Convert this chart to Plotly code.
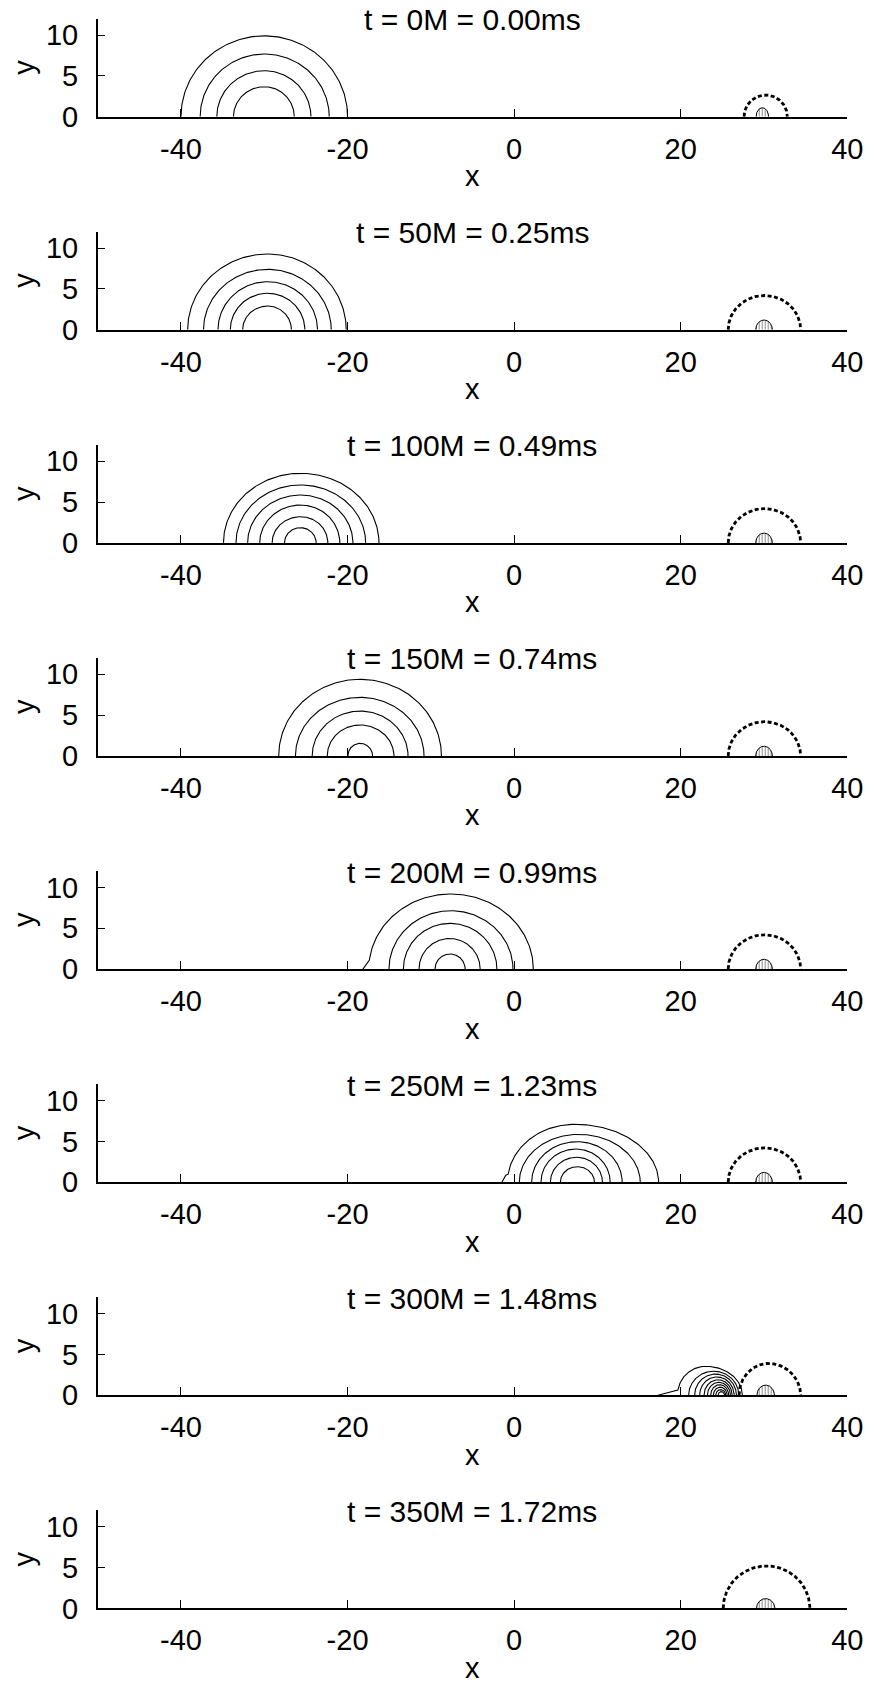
import numpy as np
import plotly.graph_objects as go

# ---------------- data ----------------
TITLES = ["t = 0M = 0.00ms", "t = 50M = 0.25ms", "t = 100M = 0.49ms", "t = 150M = 0.74ms",
          "t = 200M = 0.99ms", "t = 250M = 1.23ms", "t = 300M = 1.48ms", "t = 350M = 1.72ms"]
X_TICKS = [-40, -20, 0, 20, 40]
X_TICK_TEXT = ["-40", "-20", "0", "20", "40"]
Y_TICKS = [0, 5, 10]
Y_TICK_TEXT = ["0", "5", "10"]

# star density contours (one list per panel): left end, peak x, right end, height
STAR_LEFT = [
    [-40.0, -37.7, -35.7, -33.7],
    [-39.2, -37.3, -35.56, -34.08, -32.6],
    [-34.9, -33.4, -32.0, -30.55, -29.06, -27.58],
    [-28.27, -26.26, -24.25, -22.44, -19.96],
    [-17.45, -15.03, -13.3, -11.42, -9.5],
    [-0.8, 0.62, 2.1, 3.22, 4.35, 5.55],
    [19.6, 20.95, 21.67, 22.27, 22.8, 23.2, 23.6, 23.92, 24.2, 24.49],
    [],
]
STAR_PEAK = [
    [-30.0, -30.0, -30.0, -30.0],
    [-29.6, -29.6, -29.6, -29.6, -29.6],
    [-25.65, -25.65, -25.65, -25.65, -25.65, -25.65],
    [-18.5, -18.5, -18.5, -18.5, -18.5],
    [-7.6, -7.6, -7.7, -7.75, -7.7],
    [7.25, 7.7, 7.55, 7.4, 7.5, 7.6],
    [23.0, 23.96, 24.18, 24.34, 24.48, 24.58, 24.68, 24.74, 24.8, 24.87],
    [],
]
STAR_RIGHT = [
    [-20.0, -22.2, -24.4, -26.4],
    [-20.16, -21.96, -23.61, -25.13, -26.74],
    [-16.23, -17.83, -19.36, -20.93, -22.37, -23.77],
    [-8.73, -10.82, -12.74, -14.43, -17.0],
    [2.3, -0.14, -2.07, -4.08, -5.88],
    [17.34, 15.14, 12.97, 11.53, 10.6, 9.64],
    [27.4, 26.97, 26.69, 26.41, 26.17, 25.97, 25.76, 25.57, 25.4, 25.25],
    [],
]
STAR_HEIGHT = [
    [9.9, 7.67, 5.63, 3.67],
    [9.28, 7.4, 5.89, 4.47, 2.91],
    [8.52, 7.09, 5.86, 4.64, 3.21, 1.86],
    [9.39, 7.18, 5.5, 3.8, 1.55],
    [9.2, 7.15, 5.6, 3.75, 1.85],
    [7.09, 5.86, 4.96, 4.06, 3.05, 1.9],
    [3.55, 2.95, 2.6, 2.25, 1.9, 1.6, 1.3, 1.0, 0.7, 0.45],
    [],
]
# low tail ("foot") of the outermost contour where the star is being stripped
FOOT_X = [None, None, None, None, -18.15, -1.47, 17.27, None]
KNEE_X = [None, None, None, None, -17.5, -1.0, 19.2, None]
KNEE_Y = [None, None, None, None, 0.9, 0.85, 0.5, None]

# dashed horizon contour
HOR_LEFT = [27.6, 25.7, 25.7, 25.7, 25.7, 25.7, 27.0, 25.1]
HOR_PEAK = [30.2, 30.05, 30.05, 30.05, 30.05, 30.05, 30.5, 30.3]
HOR_RIGHT = [32.8, 34.4, 34.4, 34.4, 34.4, 34.4, 34.4, 35.5]
HOR_HEIGHT = [2.65, 4.2, 4.2, 4.2, 4.2, 4.2, 3.9, 5.2]

# hatched black-hole region
BH_CENTER = [29.8, 30.0, 30.0, 30.0, 30.0, 30.0, 30.2, 30.2]
BH_HALFWIDTH = [0.75, 1.0, 1.0, 1.0, 1.0, 1.0, 1.05, 1.1]
BH_HEIGHT = [1.1, 1.2, 1.2, 1.2, 1.2, 1.2, 1.25, 1.2]

# ---------------- layout geometry (pixels) ----------------
W, H = 874, 1685
PX_LEFT, PX_RIGHT = 97.7, 847.3
ZERO0, PANEL_STEP, PANEL_H = 116.7, 213.1, 98.0
FONT = "Liberation Sans, Arial, Helvetica, sans-serif"


def arc(left, peak, right, h, n=80):
    th = np.linspace(0, np.pi / 2, n)
    xl = peak - (peak - left) * np.cos(th)
    yl = h * np.sin(th)
    th2 = th[::-1]
    xr = peak + (right - peak) * np.cos(th2)
    yr = h * np.sin(th2)
    return np.concatenate([xl, xr[1:]]), np.concatenate([yl, yr[1:]])


fig = go.Figure()
annotations = []
for i in range(8):
    ax = "" if i == 0 else str(i + 1)
    xref, yref = "x" + ax, "y" + ax

    xs, ys = [], []
    for k in range(len(STAR_LEFT[i])):
        x, y = arc(STAR_LEFT[i][k], STAR_PEAK[i][k], STAR_RIGHT[i][k], STAR_HEIGHT[i][k])
        if k == 0 and FOOT_X[i] is not None:
            keep = ~((x < STAR_PEAK[i][k]) & (y < KNEE_Y[i]))
            x, y = x[keep], y[keep]
            x = np.concatenate([[FOOT_X[i], KNEE_X[i]], x])
            y = np.concatenate([[0.0, KNEE_Y[i]], y])
        xs += list(x) + [None]
        ys += list(y) + [None]
    if xs:
        fig.add_trace(go.Scatter(x=xs, y=ys, mode="lines", xaxis=xref, yaxis=yref,
                                 line=dict(color="black", width=1.1), hoverinfo="skip",
                                 showlegend=False))

    x, y = arc(HOR_LEFT[i], HOR_PEAK[i], HOR_RIGHT[i], HOR_HEIGHT[i])
    fig.add_trace(go.Scatter(x=x, y=y, mode="lines", xaxis=xref, yaxis=yref,
                             line=dict(color="black", width=2.8, dash="4px,2.5px"),
                             hoverinfo="skip", showlegend=False))

    c, r = BH_CENTER[i], BH_HALFWIDTH[i]
    x, y = arc(c - r, c, c + r, BH_HEIGHT[i])
    fig.add_trace(go.Scatter(x=x, y=y, mode="lines", xaxis=xref, yaxis=yref, fill="toself",
                             fillcolor="white",
                             fillpattern=dict(shape="|", size=3, solidity=0.3,
                                              fgcolor="black", bgcolor="white"),
                             line=dict(color="black", width=1), hoverinfo="skip",
                             showlegend=False))

    zero_px = ZERO0 + PANEL_STEP * i
    top_px = zero_px - PANEL_H
    ydom = [1 - zero_px / H, 1 - top_px / H]
    xdom = [PX_LEFT / W, PX_RIGHT / W]
    fig.layout["xaxis" + ax] = dict(
        domain=xdom, range=[-50, 40], anchor=yref, showline=True, linecolor="black",
        linewidth=2, ticks="inside", ticklen=8, tickwidth=1.3, tickcolor="black",
        tickvals=X_TICKS, ticktext=X_TICK_TEXT, automargin=False,
        tickfont=dict(family=FONT, size=29, color="black"),
        showgrid=False, zeroline=False, ticklabelstandoff=5, fixedrange=True)
    fig.layout["yaxis" + ax] = dict(
        domain=ydom, range=[0, 12], anchor=xref, showline=True, linecolor="black",
        linewidth=1.5, ticks="inside", ticklen=8, tickwidth=1.3, tickcolor="black",
        tickvals=Y_TICKS, ticktext=Y_TICK_TEXT, automargin=False,
        tickfont=dict(family=FONT, size=29, color="black"),
        showgrid=False, zeroline=False, ticklabelstandoff=12, fixedrange=True)

    annotations.append(dict(text=TITLES[i], xref="paper", yref="paper",
                            x=(PX_LEFT + PX_RIGHT) / 2 / W, y=1 - (zero_px - 97.0) / H,
                            xanchor="center", yanchor="middle", showarrow=False,
                            font=dict(family=FONT, size=30, color="black")))
    annotations.append(dict(text="x", xref="paper", yref="paper",
                            x=(PX_LEFT + PX_RIGHT) / 2 / W, y=1 - (zero_px + 59.5) / H,
                            xanchor="center", yanchor="middle", showarrow=False,
                            font=dict(family=FONT, size=29, color="black")))
    annotations.append(dict(text="y", xref="paper", yref="paper", textangle=-90,
                            x=24.0 / W, y=1 - (zero_px - 49.0) / H,
                            xanchor="center", yanchor="middle", showarrow=False,
                            font=dict(family=FONT, size=29, color="black")))

fig.update_layout(width=W, height=H,
                  margin=dict(l=0, r=0, t=0, b=0, pad=0, autoexpand=False),
                  paper_bgcolor="white", plot_bgcolor="white",
                  annotations=annotations, showlegend=False)
fig.write_html("out.html")
